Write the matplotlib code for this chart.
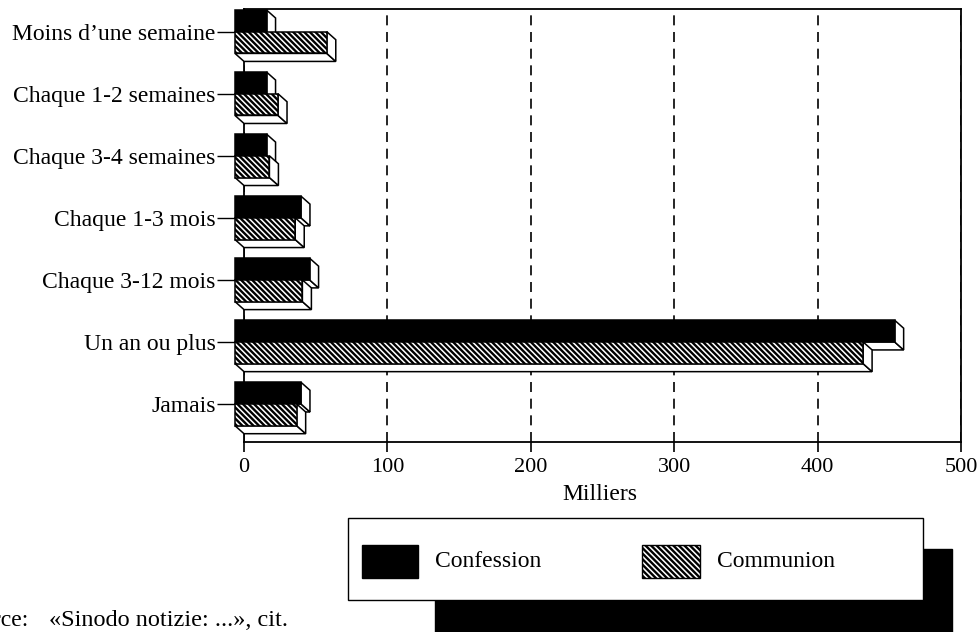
import matplotlib
matplotlib.use("Agg")
import matplotlib.pyplot as plt
from matplotlib.patches import Polygon, Rectangle

# ---------------- data ----------------
categories = ["Moins d’une semaine", "Chaque 1-2 semaines", "Chaque 3-4 semaines",
              "Chaque 1-3 mois", "Chaque 3-12 mois", "Un an ou plus", "Jamais"]
confession = [22, 22, 22, 46, 52, 460, 46]
communion = [64, 30, 24, 42, 47, 438, 43]
xticks = [0, 100, 200, 300, 400, 500]
xlabel = "Milliers"
series_names = ["Confession", "Communion"]
source_label = "Source:"
source_text = "«Sinodo notizie: ...», cit."

# ---------------- style ----------------
plt.rcParams['font.family'] = ['Liberation Serif', 'DejaVu Serif']
plt.rcParams['hatch.linewidth'] = 1.7
plt.rcParams['hatch.color'] = 'black'
FS = 17
FS_TICK = 16
HATCH = '\\' * 6
W, H = 979, 632
fig = plt.figure(figsize=(W / 100, H / 100), dpi=100)

L, R, T, B = 244, 961, 9, 441.7   # axes box in pixels (back plane)
ax = fig.add_axes([L / W, 1 - B / H, (R - L) / W, (B - T) / H])
n = len(categories)
ax.set_xlim(0, 500)
ax.set_ylim(n - 0.521, -0.495)

# 3D depth offset (pixels) converted to data units
ppx = (R - L) / 500.0
ppy = (B - T) / (n - 0.521 + 0.495)
dxd = 9 / ppx
dyd = 8 / ppy
h = 0.35
lw = 1.1


def draw_bar(v, y0, y1, front_kw):
    # back plane rect: x 0..v, y y0..y1 ; front plane shifted by (-dxd, -dyd)
    side = Polygon([(v - dxd, y0 - dyd), (v, y0), (v, y1), (v - dxd, y1 - dyd)],
                   closed=True, facecolor='white', edgecolor='black', lw=lw,
                   zorder=4, clip_on=False)
    bottom = Polygon([(-dxd, y1 - dyd), (v - dxd, y1 - dyd), (v, y1), (0, y1)],
                     closed=True, facecolor='white', edgecolor='black', lw=lw,
                     zorder=4, clip_on=False)
    ax.add_patch(bottom)
    ax.add_patch(side)
    ax.barh(y0 - dyd, v, height=y1 - y0, left=-dxd, align='edge',
            edgecolor='black', lw=lw, zorder=5, clip_on=False, **front_kw)


for k in range(n):
    draw_bar(confession[k], k - h, k, dict(color='black'))
    draw_bar(communion[k], k, k + h, dict(facecolor='white', hatch=HATCH))

# grid / frame
ax.set_xticks(xticks)
ax.set_xticklabels([str(t) for t in xticks], fontsize=FS_TICK)
ax.xaxis.grid(True, color='black', linestyle=(0, (6, 4)), lw=1.2)
ax.set_axisbelow(True)
for s in ax.spines.values():
    s.set_linewidth(1.3)
ax.tick_params(axis='x', direction='out', length=7.5, width=1.2, pad=4)

ax.set_yticks([k - dyd for k in range(n)])
ax.set_yticklabels(categories, fontsize=FS)
ax.tick_params(axis='y', direction='out', length=19.4, width=1.0, pad=1)

fig.text(600 / W, 1 - 499.5 / H, xlabel, ha='center', va='baseline', fontsize=FS)

# ---------------- legend (drawn by hand, with black drop shadow) ----------------
ft = fig.transFigure
fig.patches.append(Rectangle((435 / W, 1 - 645 / H), (952 - 435) / W, (645 - 549) / H,
                             transform=ft, facecolor='black', edgecolor='black', zorder=1))
fig.patches.append(Rectangle((348 / W, 1 - 600 / H), (923 - 348) / W, (600 - 518) / H,
                             transform=ft, facecolor='white', edgecolor='black', lw=1.0, zorder=2))
fig.patches.append(Rectangle((362 / W, 1 - 578 / H), (418 - 362) / W, (578 - 545) / H,
                             transform=ft, facecolor='black', edgecolor='black', lw=1.0, zorder=3))
fig.patches.append(Rectangle((642 / W, 1 - 578 / H), (700 - 642) / W, (578 - 545) / H,
                             transform=ft, facecolor='white', edgecolor='black', lw=1.0,
                             hatch=HATCH, zorder=3))
fig.text(435 / W, 1 - 561.5 / H, series_names[0], ha='left', va='center', fontsize=FS, zorder=4)
fig.text(717 / W, 1 - 561.5 / H, series_names[1], ha='left', va='center', fontsize=FS, zorder=4)

fig.text(29 / W, 1 - 620 / H, source_label, ha='right', va='center', fontsize=FS)
fig.text(49 / W, 1 - 620 / H, source_text, ha='left', va='center', fontsize=17.5)

fig.savefig("out.png", dpi=100)
